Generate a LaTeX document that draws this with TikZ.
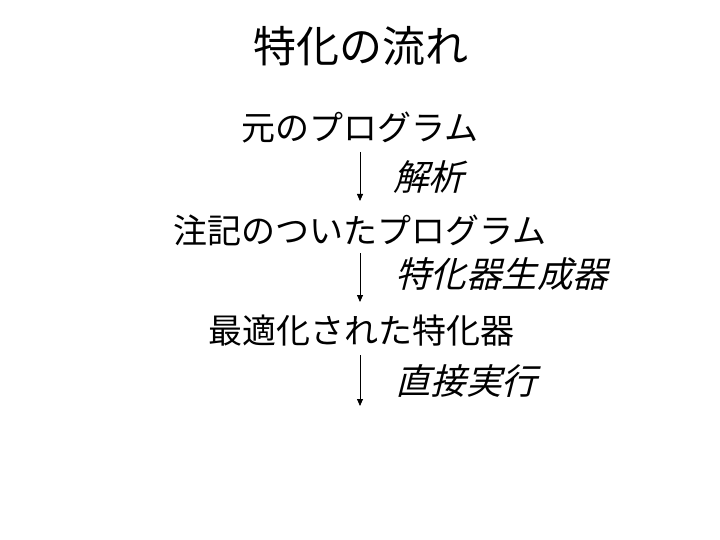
\documentclass[tikz,border=0pt]{standalone}
\usepackage{fontspec}
\usetikzlibrary{arrows.meta}
\newfontfamily\cjk{Noto Sans CJK JP}
\newfontfamily\cjkit[FakeSlant=0.25]{Noto Sans CJK JP}
\tikzset{
  x=1pt,y=-1pt,
  txt/.style={inner sep=0pt,font=\cjk\fontsize{34}{38}\selectfont},
  lbl/.style={inner sep=0pt,anchor=west,font=\cjkit\fontsize{35.5}{40}\selectfont},
  ttl/.style={inner sep=0pt,font=\cjk\fontsize{43}{48}\selectfont},
  flow/.style={line width=0.8pt,-{Triangle[length=7pt,width=6pt]}}
}
\begin{document}
\begin{tikzpicture}
\useasboundingbox (0,0) rectangle (720,540);
\node[ttl] (title) at (361,46) {特化の流れ};
\node[txt] (src) at (360,128) {元のプログラム};
\node[txt] (ann) at (360,230) {注記のついたプログラム};
\node[txt] (spec) at (361,331) {最適化された特化器};
\coordinate (a1s) at (360,152);
\coordinate (a1e) at (360,201);
\coordinate (a2s) at (360,253);
\coordinate (a2e) at (360,302);
\coordinate (a3s) at (360,355);
\coordinate (a3e) at (360,406);
\draw[flow] (a1s) -- (a1e);
\draw[flow] (a2s) -- (a2e);
\draw[flow] (a3s) -- (a3e);
\node[lbl] (l1) at (393,177) {解析};
\node[lbl] (l2) at (395,274) {特化器生成器};
\node[lbl] (l3) at (395,381) {直接実行};
\end{tikzpicture}
\end{document}
